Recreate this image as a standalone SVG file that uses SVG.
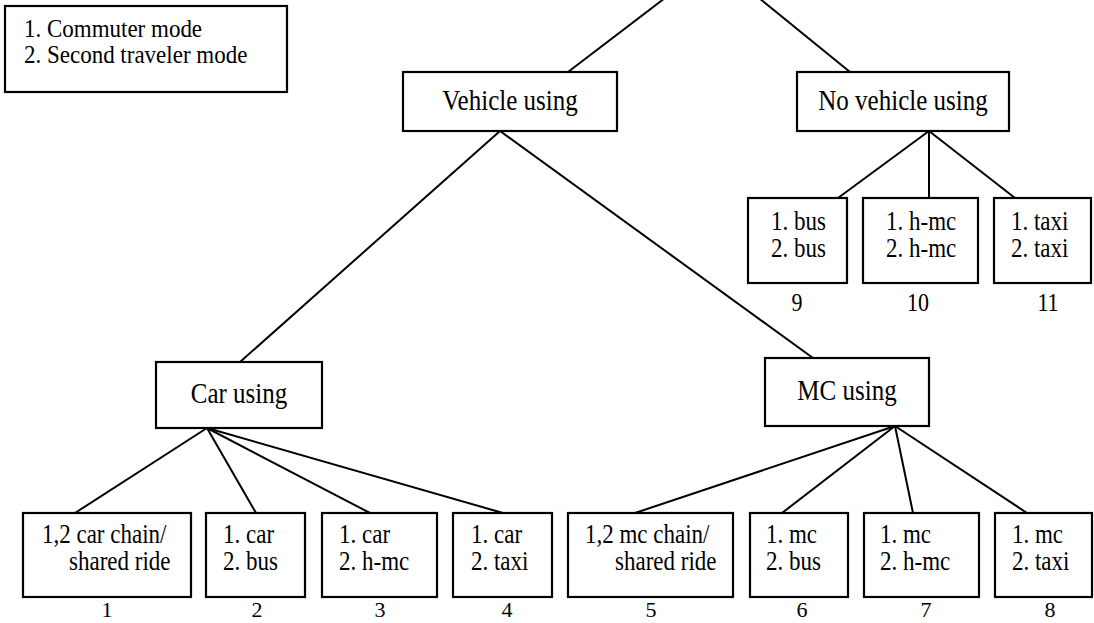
<svg xmlns="http://www.w3.org/2000/svg" width="1094" height="623" viewBox="0 0 1094 623">
<style>
.box{fill:#fff;stroke:#000;stroke-width:2.2}
.ln{stroke:#000;stroke-width:2;fill:none}
text{font-family:"Liberation Serif","Times New Roman",serif;fill:#000}
.hd{font-size:25px;text-anchor:middle}
.bt{font-size:23px}
.lb{font-size:22px;text-anchor:middle}
.lg{font-size:23px}
</style>
<rect width="1094" height="623" fill="#fff"/>
<g id="connectors">
<line class="ln" x1="665" y1="-2" x2="568" y2="72"/>
<line class="ln" x1="759" y1="-2" x2="850" y2="72"/>
<line class="ln" x1="500" y1="131" x2="240" y2="362"/>
<line class="ln" x1="500" y1="131" x2="813" y2="358"/>
<line class="ln" x1="929" y1="131" x2="838" y2="198"/>
<line class="ln" x1="929" y1="131" x2="929" y2="198"/>
<line class="ln" x1="929" y1="131" x2="1015" y2="198"/>
<line class="ln" x1="207" y1="428" x2="75" y2="513"/>
<line class="ln" x1="207" y1="428" x2="256" y2="513"/>
<line class="ln" x1="207" y1="428" x2="370" y2="513"/>
<line class="ln" x1="207" y1="428" x2="503" y2="513"/>
<line class="ln" x1="895" y1="426" x2="635" y2="513"/>
<line class="ln" x1="895" y1="426" x2="782" y2="513"/>
<line class="ln" x1="895" y1="426" x2="913" y2="513"/>
<line class="ln" x1="895" y1="426" x2="1027" y2="513"/>
</g>
<g id="legend">
<rect class="box" x="5" y="6" width="282" height="86"/>
<text class="lg" transform="translate(24 37) scale(1 1.1)">1.  Commuter mode</text>
<text class="lg" transform="translate(24 63) scale(1 1.1)">2.  Second traveler mode</text>
</g>
<g id="vehicle">
<rect class="box" x="403" y="72" width="214" height="59"/>
<text class="hd" transform="translate(510 110) scale(1 1.15)">Vehicle using</text>
</g>
<g id="novehicle">
<rect class="box" x="797" y="72" width="212" height="59"/>
<text class="hd" transform="translate(903 110) scale(1 1.15)">No vehicle using</text>
</g>
<g id="car">
<rect class="box" x="156" y="362" width="166" height="66"/>
<text class="hd" transform="translate(239 403) scale(1 1.15)">Car using</text>
</g>
<g id="mc">
<rect class="box" x="765" y="358" width="164" height="68"/>
<text class="hd" transform="translate(847 400) scale(1 1.15)">MC using</text>
</g>
<g id="n1">
<rect class="box" x="23" y="513" width="168" height="84"/>
<text class="bt" transform="translate(42 543) scale(1 1.15)">1,2 car chain/</text>
<text class="bt" transform="translate(69 570) scale(1 1.15)">shared ride</text>
<text class="lb" x="107" y="617">1</text>
</g>
<g id="n2">
<rect class="box" x="206" y="513" width="99" height="84"/>
<text class="bt" transform="translate(223 543) scale(1 1.15)">1. car</text>
<text class="bt" transform="translate(223 570) scale(1 1.15)">2. bus</text>
<text class="lb" x="257" y="617">2</text>
</g>
<g id="n3">
<rect class="box" x="322" y="513" width="115" height="84"/>
<text class="bt" transform="translate(339 543) scale(1 1.15)">1. car</text>
<text class="bt" transform="translate(339 570) scale(1 1.15)">2. h-mc</text>
<text class="lb" x="380" y="617">3</text>
</g>
<g id="n4">
<rect class="box" x="453" y="513" width="99" height="84"/>
<text class="bt" transform="translate(471 543) scale(1 1.15)">1. car</text>
<text class="bt" transform="translate(471 570) scale(1 1.15)">2. taxi</text>
<text class="lb" x="507" y="617">4</text>
</g>
<g id="n5">
<rect class="box" x="568" y="513" width="165" height="84"/>
<text class="bt" transform="translate(585 543) scale(1 1.15)">1,2 mc chain/</text>
<text class="bt" transform="translate(615 570) scale(1 1.15)">shared ride</text>
<text class="lb" x="651" y="617">5</text>
</g>
<g id="n6">
<rect class="box" x="750" y="513" width="98" height="84"/>
<text class="bt" transform="translate(766 543) scale(1 1.15)">1. mc</text>
<text class="bt" transform="translate(766 570) scale(1 1.15)">2. bus</text>
<text class="lb" x="802" y="617">6</text>
</g>
<g id="n7">
<rect class="box" x="864" y="513" width="115" height="84"/>
<text class="bt" transform="translate(880 543) scale(1 1.15)">1. mc</text>
<text class="bt" transform="translate(880 570) scale(1 1.15)">2. h-mc</text>
<text class="lb" x="926" y="617">7</text>
</g>
<g id="n8">
<rect class="box" x="995" y="513" width="97" height="84"/>
<text class="bt" transform="translate(1012 543) scale(1 1.15)">1. mc</text>
<text class="bt" transform="translate(1012 570) scale(1 1.15)">2. taxi</text>
<text class="lb" x="1050" y="617">8</text>
</g>
<g id="n9">
<rect class="box" x="748" y="198" width="99" height="85"/>
<text class="bt" transform="translate(771 230) scale(1 1.15)">1. bus</text>
<text class="bt" transform="translate(771 257) scale(1 1.15)">2. bus</text>
<text class="lb" transform="translate(797 311) scale(1 1.1)">9</text>
</g>
<g id="n10">
<rect class="box" x="863" y="198" width="115" height="85"/>
<text class="bt" transform="translate(886 230) scale(1 1.15)">1. h-mc</text>
<text class="bt" transform="translate(886 257) scale(1 1.15)">2. h-mc</text>
<text class="lb" transform="translate(918 311) scale(1 1.1)">10</text>
</g>
<g id="n11">
<rect class="box" x="994" y="198" width="97" height="85"/>
<text class="bt" transform="translate(1011 230) scale(1 1.15)">1. taxi</text>
<text class="bt" transform="translate(1011 257) scale(1 1.15)">2. taxi</text>
<text class="lb" transform="translate(1048 311) scale(1 1.1)">11</text>
</g>
</svg>
